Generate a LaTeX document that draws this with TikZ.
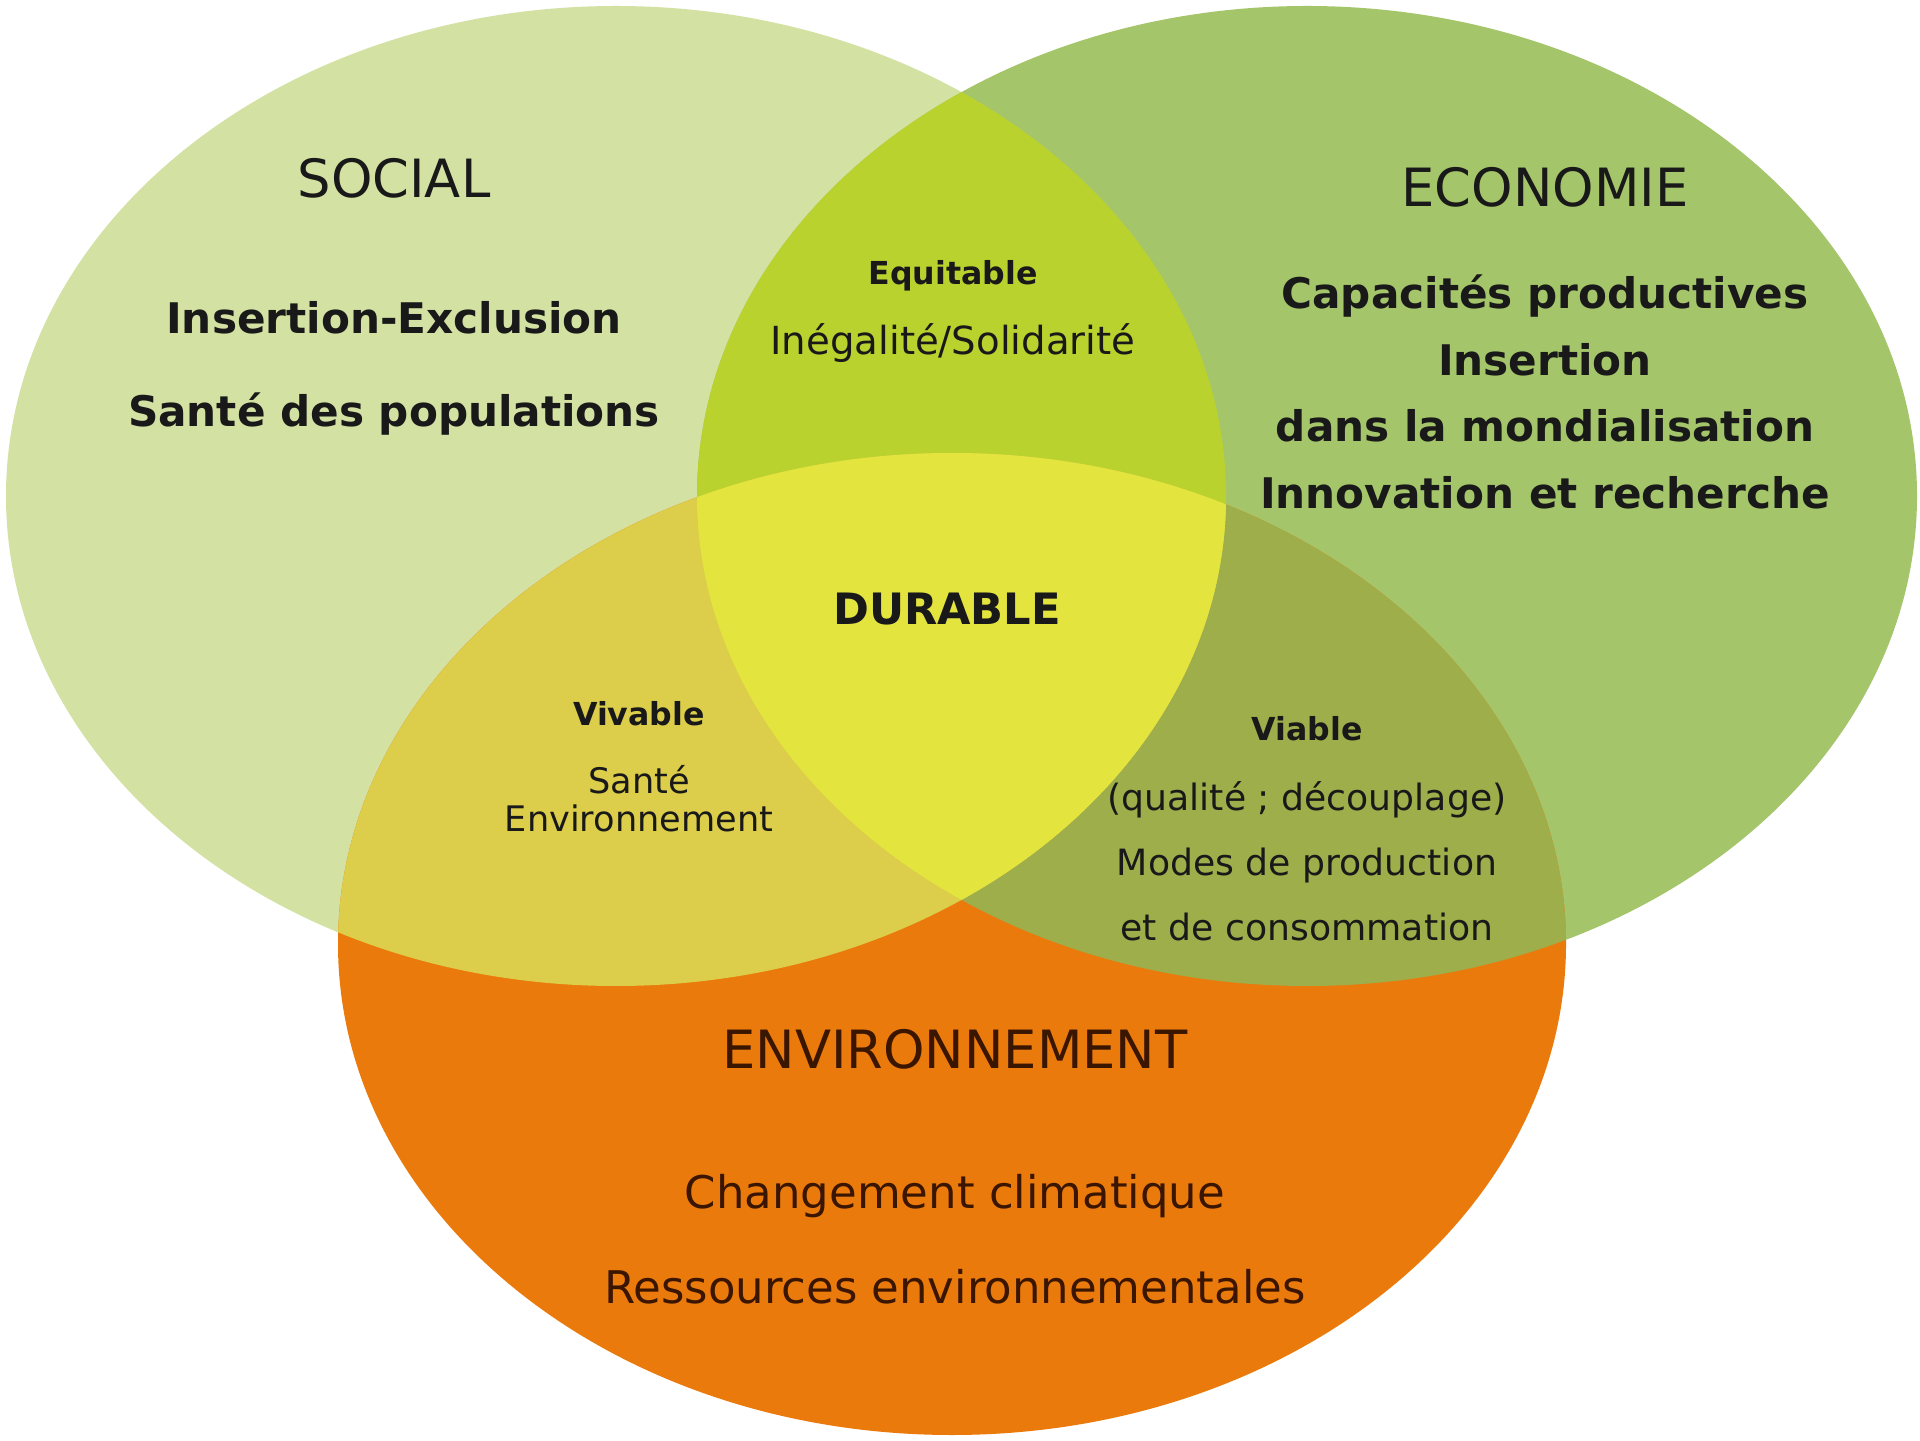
\documentclass[tikz,border=0pt]{standalone}
\usepackage{fontspec}
\setmainfont{DejaVu Sans}
\usepackage{xcolor}
\usepackage{tikz}
\usetikzlibrary{positioning}

\definecolor{socialgreen}{HTML}{D3E1A3}
\definecolor{ecogreen}{HTML}{A5C56A}
\definecolor{envorange}{HTML}{EB7A0C}
\definecolor{equitgreen}{HTML}{B9D22E}
\definecolor{durableyellow}{HTML}{E4E43F}
\definecolor{vivableyellow}{HTML}{DCCD4A}
\definecolor{viableolive}{HTML}{9EAE4A}
\definecolor{envtext}{HTML}{3A1500}

\newcommand{\socialshape}{(socialc) ellipse [x radius=6.10, y radius=4.90]}
\newcommand{\ecoshape}{(ecoc) ellipse [x radius=6.10, y radius=4.90]}
\newcommand{\envshape}{(envc) ellipse [x radius=6.14, y radius=4.91]}

\begin{document}
\begin{tikzpicture}[
    lbl/.style={inner sep=0pt, align=center, text=black!90},
    title/.style={lbl, font=\fontsize{15}{18}\selectfont},
    bigtxt/.style={lbl, font=\fontsize{12}{#1}\selectfont\bfseries},
    smallhead/.style={lbl, font=\fontsize{9}{11}\selectfont\bfseries},
    smalltxt/.style={lbl, font=\fontsize{#1}{#1}\selectfont}]

    \useasboundingbox (0,0) rectangle (19.2,14.4);
    \fill[white] (0,0) rectangle (19.2,14.4);

    % Circle centres
    \coordinate (socialc) at (6.16,9.44);
    \coordinate (ecoc) at (13.07,9.44);
    \coordinate (envc) at (9.52,4.96);

    % Circles
    \fill[socialgreen] \socialshape;
    \fill[ecogreen] \ecoshape;
    \fill[envorange] \envshape;

    % Overlaps
    \begin{scope}
        \clip \ecoshape;
        \fill[viableolive] \envshape;
    \end{scope}
    \begin{scope}
        \clip \socialshape;
        \fill[equitgreen] \ecoshape;
        \fill[vivableyellow] \envshape;
        \clip \ecoshape;
        \fill[durableyellow] \envshape;
    \end{scope}

    % Social
    \node[title] (social) at (3.94,12.62) {SOCIAL};
    \node[bigtxt=26.5pt] (socialtxt) at (3.94,10.72) {Insertion-Exclusion\\Santé des populations};

    % Economie
    \node[title] (eco) at (15.45,12.53) {ECONOMIE};
    \node[bigtxt=19pt] (ecotxt) at (15.45,10.48) {Capacités productives\\Insertion\\dans la mondialisation\\Innovation et recherche};

    % Environnement
    \node[title, text=envtext] (env) at (9.55,3.91) {ENVIRONNEMENT};
    \node[lbl, text=envtext, font=\fontsize{12.8}{27}\selectfont] (envtxt) at (9.55,2.01) {Changement climatique\\Ressources environnementales};

    % Intersections
    \node[smallhead] (equit) at (9.53,11.64) {Equitable};
    \node[smalltxt=11pt] (equittxt) at (9.53,10.97) {Inégalité/Solidarité};
    \node[lbl, font=\fontsize{12.3}{14}\selectfont\bfseries] (durable) at (9.47,8.31) {DURABLE};
    \node[smallhead] (vivable) at (6.39,7.26) {Vivable};
    \node[smalltxt=10.8pt, font=\fontsize{10}{10.8}\selectfont] (vivabletxt) at (6.39,6.41) {Santé\\Environnement};
    \node[smallhead] (viable) at (13.07,7.11) {Viable};
    \node[lbl, font=\fontsize{10.3}{18.5}\selectfont] (viabletxt) at (13.07,5.79) {(qualité ; découplage)\\Modes de production\\et de consommation};
\end{tikzpicture}
\end{document}
